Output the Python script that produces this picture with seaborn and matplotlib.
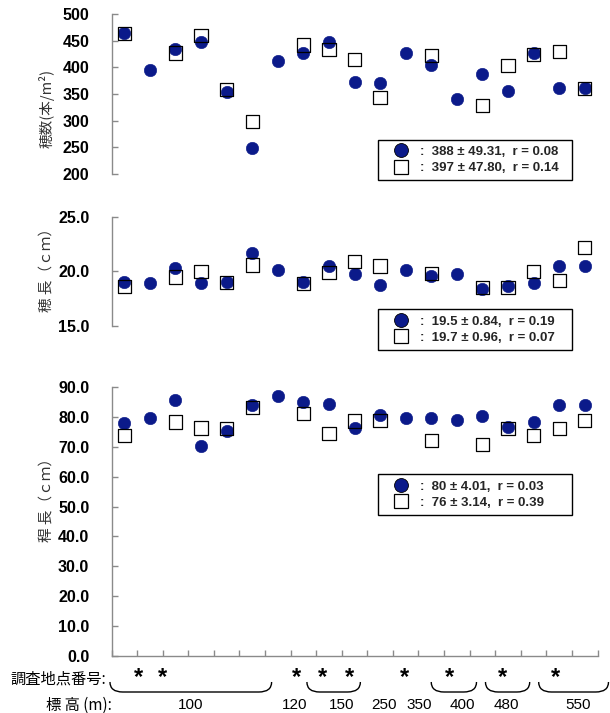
import numpy as np
import pandas as pd
import matplotlib
matplotlib.use("Agg")
import matplotlib.pyplot as plt
import seaborn as sns
from matplotlib.lines import Line2D
from matplotlib.path import Path
from matplotlib.patches import PathPatch
from matplotlib.transforms import blended_transform_factory

# ---------------- data ----------------
n = np.nan
sites = list(range(19))

ear_num_circle = [464, 395, 434, 447, 353, 248, 412, 427, 448, 373, 371, 426, 404, 340, 388, 355, 427, 362, 362]
ear_num_square = [464, n, 427, 459, 358, 299, n, 442, 434, 414, 344, n, 422, n, 329, 403, 424, 430, 360]

ear_len_circle = [19.0, 18.9, 20.3, 18.9, 19.0, 21.7, 20.1, 19.0, 20.5, 19.8, 18.8, 20.1, 19.6, 19.8, 18.4, 18.7, 18.9, 20.5, 20.5]
ear_len_square = [18.6, n, 19.5, 20.0, 19.0, 20.6, n, 18.9, 19.9, 20.9, 20.5, n, 19.8, n, 18.5, 18.5, 20.0, 19.2, 22.2]

culm_len_circle = [78.0, 79.7, 85.6, 70.4, 75.2, 83.9, 87.0, 85.0, 84.3, 76.3, 80.6, 79.7, 79.7, 79.1, 80.3, 76.7, 78.4, 84.0, 84.0]
culm_len_square = [73.9, n, 78.3, 76.3, 76.1, 83.1, n, 81.1, 74.4, 78.6, 78.9, n, 72.0, n, 70.8, 76.1, 73.9, 76.1, 78.9]

legend_top = [":  388 ± 49.31,  r = 0.08", ":  397 ± 47.80,  r = 0.14"]
legend_mid = [":  19.5 ± 0.84,  r = 0.19", ":  19.7 ± 0.96,  r = 0.07"]
legend_bot = [":  80 ± 4.01,  r = 0.03", ":  76 ± 3.14,  r = 0.39"]

ylabels = ["穂数(本/m²)", "穂 長（ｃｍ）", "稈 長（ｃｍ）"]

star_x = [0.54, 1.51, 6.75, 7.76, 8.82, 10.96, 12.72, 14.79, 16.86]
elev_labels = ["100", "120", "150", "250", "350", "400", "480", "550"]
elev_x = [2.61, 6.67, 8.5, 10.14, 11.54, 13.23, 14.95, 17.76]
brackets = [(-0.56, 5.76), (7.14, 9.23), (12.0, 13.77), (14.12, 15.85), (16.2, 18.93)]

# ---------------- style ----------------
sns.set_theme(style="white")
plt.rcParams["font.family"] = ["Liberation Sans Narrow", "Liberation Sans", "Noto Sans CJK JP"]

W, H = 610, 713
fig = plt.figure(figsize=(W / 100, H / 100), dpi=100)
fig.patch.set_facecolor("white")


def fx(px):
    return px / W


def fy(py):
    return 1 - py / H


NAVY = "#0b1a8a"
GRAY = "#8a8a8a"
CJK = ["Noto Sans CJK JP", "DejaVu Sans"]

panels = [
    dict(y0=14, y1=174, a=ear_num_circle, b=ear_num_square, ylim=(200, 500),
         ticks=np.arange(200, 501, 50), fmt="{:.0f}", label=ylabels[0], label_y=108,
         leg=legend_top, leg_y=(139, 181)),
    dict(y0=217, y1=326, a=ear_len_circle, b=ear_len_square, ylim=(15, 25),
         ticks=np.arange(15, 25.1, 5), fmt="{:.1f}", label=ylabels[1], label_y=266,
         leg=legend_mid, leg_y=(308, 351)),
    dict(y0=387, y1=656, a=culm_len_circle, b=culm_len_square, ylim=(0, 90),
         ticks=np.arange(0, 90.1, 10), fmt="{:.1f}", label=ylabels[2], label_y=497,
         leg=legend_bot, leg_y=(473, 516)),
]

X0, X1 = 111.5, 597.5
axes = []
for i, p in enumerate(panels):
    ax = fig.add_axes([fx(X0), fy(p["y1"]), (X1 - X0) / W, (p["y1"] - p["y0"]) / H])
    axes.append(ax)
    df = pd.DataFrame({"site": sites, "a": p["a"], "b": p["b"]})
    sns.scatterplot(data=df, x="site", y="a", ax=ax, marker="o", s=80,
                    color=NAVY, edgecolor=NAVY, linewidth=0.4, zorder=3, legend=False)
    sns.scatterplot(data=df.dropna(), x="site", y="b", ax=ax, marker="s", s=90,
                    color="none", edgecolor="black", linewidth=0.9, zorder=4, legend=False)
    ax.set_xlim(-0.5, 18.5)
    ax.set_ylim(*p["ylim"])
    ax.set_yticks(p["ticks"])
    ax.set_yticklabels([p["fmt"].format(t) for t in p["ticks"]], fontweight="bold")
    ax.set_xlabel("")
    ax.set_ylabel("")
    ax.set_facecolor("none")
    for s in ["top", "right"]:
        ax.spines[s].set_visible(False)
    ax.spines["left"].set_color(GRAY)
    ax.spines["left"].set_linewidth(1.0)
    ax.tick_params(axis="y", direction="in", length=4, width=1.0, color=GRAY,
                   pad=16, labelsize=11.5, labelcolor="black", left=True)
    if i < 2:
        ax.spines["bottom"].set_visible(False)
        ax.set_xticks([])
    else:
        ax.spines["bottom"].set_color(GRAY)
        ax.spines["bottom"].set_linewidth(1.0)
        ax.set_xticks(np.arange(-0.5, 18.6, 1))
        ax.set_xticklabels([])
        ax.tick_params(axis="x", direction="in", length=4, width=1.0, color=GRAY, bottom=True)

    fig.text(fx(47), fy(p["label_y"]), p["label"], rotation=90, ha="center", va="center",
             fontsize=10.5, family=CJK, color="#333333")

    handles = [
        Line2D([], [], marker="o", ls="none", markersize=10, markerfacecolor=NAVY,
               markeredgecolor="black", markeredgewidth=0.6),
        Line2D([], [], marker="s", ls="none", markersize=10, markerfacecolor="white",
               markeredgecolor="black", markeredgewidth=0.9),
    ]
    ly0, ly1 = p["leg_y"]
    leg = ax.legend(handles, p["leg"], loc="center",
                    bbox_to_anchor=(fx(378), fy(ly1), (572 - 378) / W, (ly1 - ly0) / H),
                    bbox_transform=fig.transFigure, mode="expand", frameon=True,
                    fancybox=False, framealpha=1, edgecolor="black",
                    prop={"size": 9.5, "weight": "bold"},
                    handlelength=2.6, handletextpad=0.1, borderpad=0.45,
                    labelspacing=0.3, borderaxespad=0)
    leg.get_frame().set_linewidth(1.0)

# ---------------- bottom annotations ----------------
ax3 = axes[2]
trans = blended_transform_factory(ax3.transData, fig.transFigure)
for x in star_x:
    ax3.text(x, fy(684), "*", transform=trans, ha="center", va="baseline",
             fontsize=17, fontweight="bold", family=["Liberation Sans"], color="black")

ytop, ybot = fy(682), fy(692)
r = 0.5
for (a, b) in brackets:
    verts = [(a, ytop), (a, ybot), (a + r, ybot), (b - r, ybot), (b, ybot), (b, ytop)]
    codes = [Path.MOVETO, Path.CURVE3, Path.CURVE3, Path.LINETO, Path.CURVE3, Path.CURVE3]
    patch = PathPatch(Path(verts, codes), transform=trans, fill=False, lw=1.0,
                      edgecolor="black", clip_on=False)
    ax3.add_patch(patch)

for x, t in zip(elev_x, elev_labels):
    ax3.text(x, fy(705), t, transform=trans, ha="center", va="center",
             fontsize=11, family=["Liberation Sans"], color="black")

fig.text(fx(106), fy(679), "調査地点番号:", ha="right", va="center", fontsize=11,
         family=CJK, color="black")
fig.text(fx(112), fy(705), "標 高 (m):", ha="right", va="center", fontsize=11,
         family=CJK, color="black")

fig.savefig("out.png", dpi=100, facecolor="white")
